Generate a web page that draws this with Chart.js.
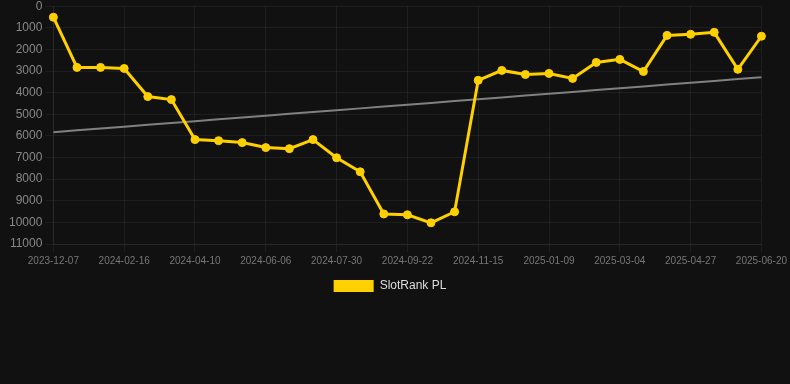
<!DOCTYPE html>
<html>
<head>
<meta charset="utf-8">
<script src="https://cdn.jsdelivr.net/npm/chart.js@4/dist/chart.umd.min.js"></script>
<style>
  html, body { margin: 0; padding: 0; background: #111111; overflow: hidden; }
  #wrap { position: relative; width: 790px; height: 306px; margin-top: -4px; }
</style>
</head>
<body>
<div id="wrap"><canvas id="c"></canvas></div>
<script>
const dates = [
  "2023-12-07","2023-12-31","2024-01-24","2024-02-16","2024-03-04","2024-03-22",
  "2024-04-10","2024-04-29","2024-05-18","2024-06-06","2024-06-24","2024-07-12",
  "2024-07-30","2024-08-17","2024-09-04","2024-09-22","2024-10-10","2024-10-28",
  "2024-11-15","2024-12-03","2024-12-21","2025-01-09","2025-01-27","2025-02-14",
  "2025-03-04","2025-03-22","2025-04-09","2025-04-27","2025-05-15","2025-06-02",
  "2025-06-20"
];
const rankPL = [
  510, 2830, 2830, 2880, 4180, 4320, 6170, 6220, 6310, 6540, 6590, 6170,
  7010, 7660, 9610, 9650, 10020, 9510, 3430, 2970, 3160, 3110, 3340, 2600,
  2460, 3020, 1350, 1300, 1210, 2920, 1390
];
const yTicks = [0,1000,2000,3000,4000,5000,6000,7000,8000,9000,10000,11000];

// least-squares trend of the rank series
const n = rankPL.length;
let sx=0, sy=0, sxy=0, sxx=0;
rankPL.forEach((v,i)=>{ sx+=i; sy+=v; sxy+=i*v; sxx+=i*i; });
const slope = (n*sxy - sx*sy) / (n*sxx - sx*sx);
const icpt = (sy - slope*sx) / n;
const trend = rankPL.map((_,i)=> icpt + slope*i);

const YELLOW = '#FFD000';
const GRID = 'rgba(255,255,255,0.055)';

const legendShift = {
  id: 'legendShift',
  afterLayout(chart) {
    if (chart.legend) { chart.legend.left -= 6; chart.legend.right -= 6; }
  }
};

new Chart(document.getElementById('c'), {
  type: 'line',
  plugins: [legendShift],
  data: {
    labels: dates,
    datasets: [
      {
        label: 'SlotRank PL',
        data: rankPL,
        borderColor: YELLOW,
        backgroundColor: YELLOW,
        borderWidth: 3,
        pointRadius: 4,
        pointBorderWidth: 1,
        pointHoverRadius: 5,
        pointBackgroundColor: YELLOW,
        pointBorderColor: YELLOW,
        tension: 0
      },
      {
        label: 'trend',
        data: trend,
        borderColor: '#808080',
        borderWidth: 2,
        pointRadius: 0,
        fill: false
      }
    ]
  },
  options: {
    responsive: true,
    maintainAspectRatio: false,
    animation: false,
    layout: { padding: { left: 6, right: 4, top: 0, bottom: 0 } },
    plugins: {
      legend: {
        position: 'bottom',
        labels: {
          color: '#dddddd',
          font: { family: 'Liberation Sans, Arial, sans-serif', size: 12 },
          boxWidth: 40,
          boxHeight: 12,
          generateLabels: (chart) => [{
            text: 'SlotRank PL',
            fillStyle: YELLOW,
            strokeStyle: YELLOW,
            lineWidth: 0,
            hidden: false,
            datasetIndex: 0,
            fontColor: '#dddddd'
          }]
        }
      },
      tooltip: { enabled: false }
    },
    scales: {
      x: {
        grid: {
          color: (ctx) => (ctx.index % 3 === 0 ? GRID : 'transparent'),
          tickColor: (ctx) => (ctx.index % 3 === 0 ? GRID : 'transparent')
        },
        border: { color: GRID },
        ticks: {
          color: '#777777',
          font: { family: 'Liberation Sans, Arial, sans-serif', size: 10 },
          autoSkip: false,
          maxRotation: 0,
          callback: function(val, idx) { return idx % 3 === 0 ? dates[idx] : ''; }
        }
      },
      y: {
        reverse: true,
        min: 0,
        max: 11000,
        afterBuildTicks: (axis) => { axis.ticks = yTicks.map(v => ({ value: v })); },
        grid: { color: GRID, tickColor: GRID },
        border: { color: GRID },
        ticks: {
          color: '#888888',
          font: { family: 'Liberation Sans, Arial, sans-serif', size: 12 },
          callback: (v) => String(v)
        }
      }
    }
  }
});
</script>
</body>
</html>
